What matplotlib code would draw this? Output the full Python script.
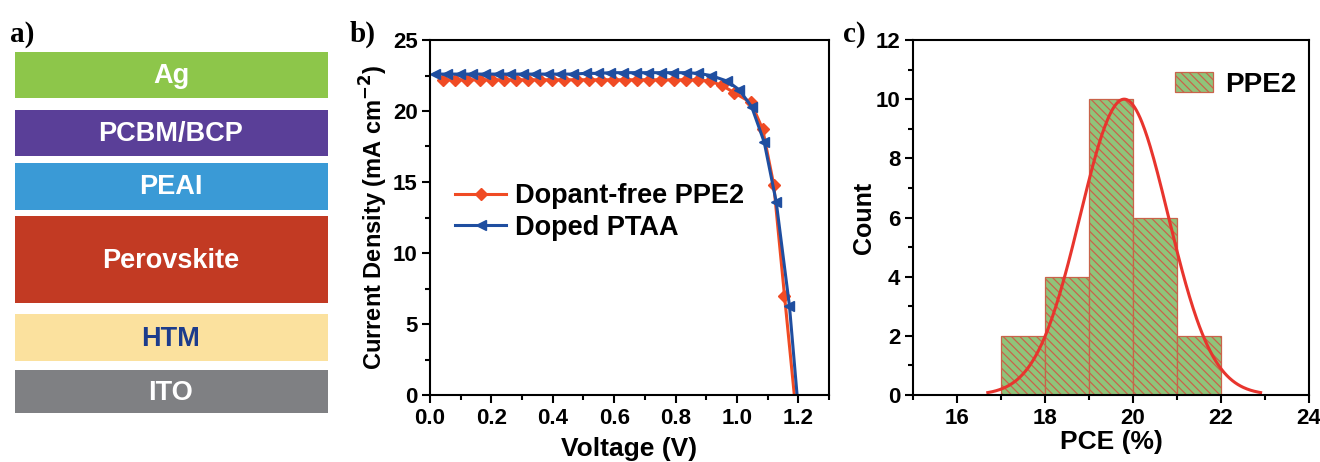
import matplotlib
matplotlib.use("Agg")
import matplotlib.pyplot as plt
import numpy as np
from matplotlib.ticker import MultipleLocator

plt.rcParams["font.family"] = ["Liberation Sans", "DejaVu Sans"]
plt.rcParams["font.weight"] = "bold"
plt.rcParams["mathtext.default"] = "bf"
plt.rcParams["hatch.linewidth"] = 0.9

# ---- panel a: device stack ----
layer_names = ["Ag", "PCBM/BCP", "PEAI", "Perovskite", "HTM", "ITO"]
layer_colors = ["#8dc64a", "#5a3f98", "#3a9ad6", "#c23a23", "#fbe19e", "#7f8083"]
layer_text_colors = ["white", "white", "white", "white", "#1c3c8c", "white"]
layer_top = [52, 110, 163, 216, 314, 370]
layer_bottom = [98, 156, 210, 303, 361, 413]

# ---- panel b: J-V curves ----
ppe2_v = [0.043, 0.083, 0.122, 0.162, 0.201, 0.241, 0.280, 0.320, 0.359, 0.399,
          0.438, 0.478, 0.517, 0.557, 0.596, 0.636, 0.675, 0.715, 0.754, 0.794,
          0.833, 0.873, 0.912, 0.952, 0.990, 1.046, 1.084, 1.120, 1.155, 1.187]
ppe2_j = [22.2, 22.2, 22.2, 22.2, 22.2, 22.2, 22.2, 22.2, 22.2, 22.2,
          22.2, 22.2, 22.2, 22.2, 22.2, 22.2, 22.2, 22.2, 22.2, 22.2,
          22.2, 22.2, 22.1, 21.8, 21.3, 20.6, 18.7, 14.8, 7.0, 0.0]
ptaa_v = [0.016, 0.057, 0.098, 0.138, 0.180, 0.220, 0.261, 0.303, 0.343, 0.383,
          0.425, 0.466, 0.507, 0.547, 0.588, 0.630, 0.670, 0.710, 0.752, 0.793,
          0.833, 0.874, 0.915, 0.969, 1.007, 1.048, 1.089, 1.128, 1.171, 1.196]
ptaa_j = [22.6, 22.6, 22.6, 22.6, 22.6, 22.6, 22.6, 22.6, 22.6, 22.6,
          22.6, 22.6, 22.65, 22.65, 22.7, 22.7, 22.7, 22.7, 22.7, 22.7,
          22.7, 22.65, 22.5, 22.1, 21.5, 20.3, 17.8, 13.6, 6.3, 0.0]

# ---- panel c: PCE histogram ----
pce_bin_left = [17, 18, 19, 20, 21]
pce_counts = [2, 4, 10, 6, 2]
fit_center = 19.8
fit_sigma = 1.0
fit_peak = 10.0
fit_range = (16.7, 22.9)

fig = plt.figure(figsize=(13.2, 4.62), dpi=100)

# panel a
axa = fig.add_axes([0, 0, 350 / 1320, 1])
axa.set_xlim(0, 350)
axa.set_ylim(462, 0)
axa.axis("off")
for name, col, tcol, top, bot in zip(layer_names, layer_colors, layer_text_colors,
                                     layer_top, layer_bottom):
    axa.barh((top + bot) / 2, 313, left=15, height=bot - top, color=col)
    axa.text(171, (top + bot) / 2 + 1, name, color=tcol, fontsize=19.5,
             fontweight="bold", ha="center", va="center")


def style_axes(ax):
    for s in ax.spines.values():
        s.set_linewidth(1.5)
    ax.tick_params(which="both", direction="out", top=False, right=False,
                   labelsize=16, width=1.5, pad=3)
    ax.tick_params(which="major", length=6)
    ax.tick_params(which="minor", length=3.5)
    for lab in ax.get_xticklabels() + ax.get_yticklabels():
        lab.set_fontweight("bold")


# panel b
axb = fig.add_axes([430 / 1320, 67 / 462, 399 / 1320, 355 / 462])
red = "#f04b24"
blue = "#1f4ea0"
axb.plot(ppe2_v, ppe2_j, color=red, lw=2.2, marker="D", ms=6.5,
         markevery=list(range(len(ppe2_v) - 1)), label="Dopant-free PPE2")
axb.plot(ptaa_v, ptaa_j, color=blue, lw=2.2, marker="<", ms=7.5,
         markevery=list(range(len(ptaa_v) - 1)), label="Doped PTAA")
axb.set_xlim(0, 1.3)
axb.set_ylim(0, 25)
axb.xaxis.set_major_locator(MultipleLocator(0.2))
axb.xaxis.set_minor_locator(MultipleLocator(0.1))
axb.yaxis.set_major_locator(MultipleLocator(5))
axb.yaxis.set_minor_locator(MultipleLocator(2.5))
axb.xaxis.set_major_formatter(plt.FuncFormatter(lambda v, p: f"{v:.1f}"))
style_axes(axb)
axb.set_xlabel("Voltage (V)", fontsize=19, fontweight="bold", labelpad=6)
axb.set_ylabel("Current Density (mA cm$^{-2}$)", fontsize=17,
               fontweight="bold", labelpad=2)
axb.legend(loc="center left", bbox_to_anchor=(0.015, 0.515), frameon=False,
           handlelength=1.9, handletextpad=0.3, labelspacing=0.2,
           borderpad=0.2, prop={"weight": "bold", "size": 19.5})

# panel c
axc = fig.add_axes([913 / 1320, 67 / 462, 396 / 1320, 355 / 462])
axc.bar(pce_bin_left, pce_counts, width=1, align="edge", color="#8fc47a",
        edgecolor="#c9634a", linewidth=0.9, hatch="\\\\\\\\", label="PPE2")
xs = np.linspace(fit_range[0], fit_range[1], 300)
axc.plot(xs, fit_peak * np.exp(-(xs - fit_center) ** 2 / (2 * fit_sigma ** 2)),
         color="#e8352e", lw=2.2)
axc.set_xlim(15, 24)
axc.set_ylim(0, 12)
axc.xaxis.set_major_locator(MultipleLocator(2))
axc.xaxis.set_minor_locator(MultipleLocator(1))
axc.yaxis.set_major_locator(MultipleLocator(2))
axc.yaxis.set_minor_locator(MultipleLocator(1))
style_axes(axc)
axc.set_xlabel("PCE (%)", fontsize=19, fontweight="bold", labelpad=1)
axc.set_ylabel("Count", fontsize=18, fontweight="bold", labelpad=0)
axc.legend(loc="upper right", bbox_to_anchor=(1.018, 0.965), frameon=False,
           handlelength=1.37, handleheight=0.7, handletextpad=0.45,
           borderpad=0.2, prop={"weight": "bold", "size": 20})

# panel letters
for x, y, s in [(10, 42, "a)"), (350, 42, "b)"), (843, 42, "c)")]:
    fig.text(x / 1320, 1 - y / 462, s, fontsize=21, fontweight="bold",
             family=["Liberation Serif", "DejaVu Serif"], ha="left", va="baseline")

fig.savefig("out.png", dpi=100)
